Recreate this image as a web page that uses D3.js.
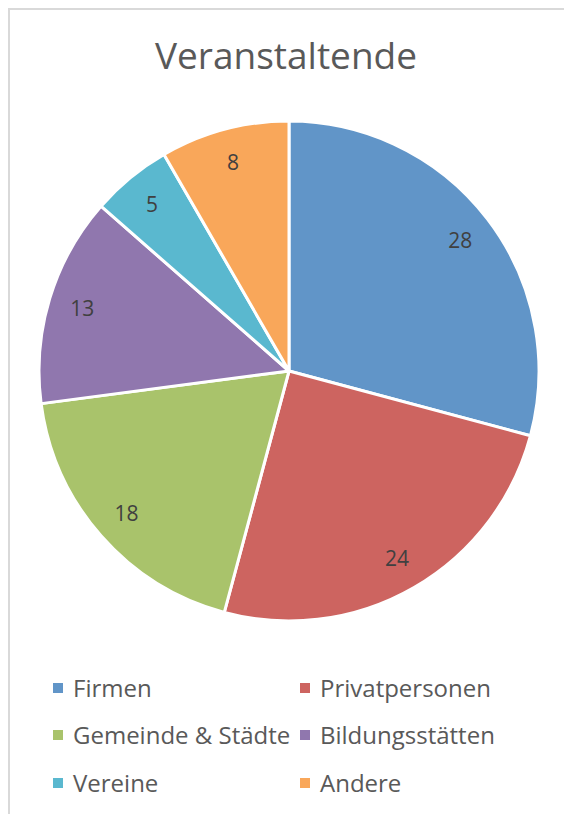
<!DOCTYPE html>
<html>
<head>
<meta charset="utf-8">
<script src="https://cdn.jsdelivr.net/npm/d3@7"></script>
<style>
  body { margin: 0; background: #fff; }
  svg { display: block; font-family: "Open Sans", sans-serif; }
</style>
</head>
<body>
<svg id="chart" width="564" height="814"></svg>
<script>
const categories = ["Firmen", "Privatpersonen", "Gemeinde & Städte", "Bildungsstätten", "Vereine", "Andere"]
const values = [28, 24, 18, 13, 5, 8]
const colors = ["#6195c8", "#cd6460", "#a9c36b", "#9077ae", "#5ab8cf", "#f9a75a"]

const width = 564, height = 814
const cx = 289, cy = 371, radius = 250

const svg = d3.select("#chart")

// frame of the chart area
svg.append("path")
  .attr("d", "M9,814 V9 H564")
  .attr("fill", "none")
  .attr("stroke", "#d9d9d9")
  .attr("stroke-width", 2)

svg.append("text")
  .attr("x", 286)
  .attr("y", 69)
  .attr("text-anchor", "middle")
  .attr("fill", "#595959")
  .attr("font-size", 37)
  .text("Veranstaltende")

const color = d3.scaleOrdinal().domain(categories).range(colors)

const data = categories.map((c, i) => ({ name: c, value: values[i] }))
const pie = d3.pie().sort(null).value(d => d.value)
const arc = d3.arc().innerRadius(0).outerRadius(radius)
const labelArc = d3.arc().innerRadius(216).outerRadius(216)

const g = svg.append("g").attr("transform", `translate(${cx},${cy})`)
const arcs = pie(data)

g.selectAll("path.slice").data(arcs)
  .join("path")
  .attr("class", "slice")
  .attr("d", arc)
  .attr("fill", d => color(d.data.name))
  .attr("stroke", "#fff")
  .attr("stroke-width", 3)
  .attr("stroke-linejoin", "round")

g.selectAll("text.label").data(arcs)
  .join("text")
  .attr("class", "label")
  .attr("transform", d => `translate(${labelArc.centroid(d)})`)
  .attr("text-anchor", "middle")
  .attr("dominant-baseline", "central")
  .attr("fill", "#404040")
  .attr("font-size", 21)
  .text(d => d.data.value)

// legend, two columns
const legendX = [53, 300], legendY = [688, 735, 783]
const legend = svg.selectAll("g.legend").data(data)
  .join("g")
  .attr("class", "legend")
  .attr("transform", (d, i) => `translate(${legendX[i % 2]},${legendY[Math.floor(i / 2)]})`)

legend.append("rect")
  .attr("x", 0)
  .attr("y", -5)
  .attr("width", 10)
  .attr("height", 10)
  .attr("fill", d => color(d.name))

legend.append("text")
  .attr("x", 20)
  .attr("y", 9)
  .attr("fill", "#595959")
  .attr("font-size", 24)
  .text(d => d.name)
</script>
</body>
</html>
